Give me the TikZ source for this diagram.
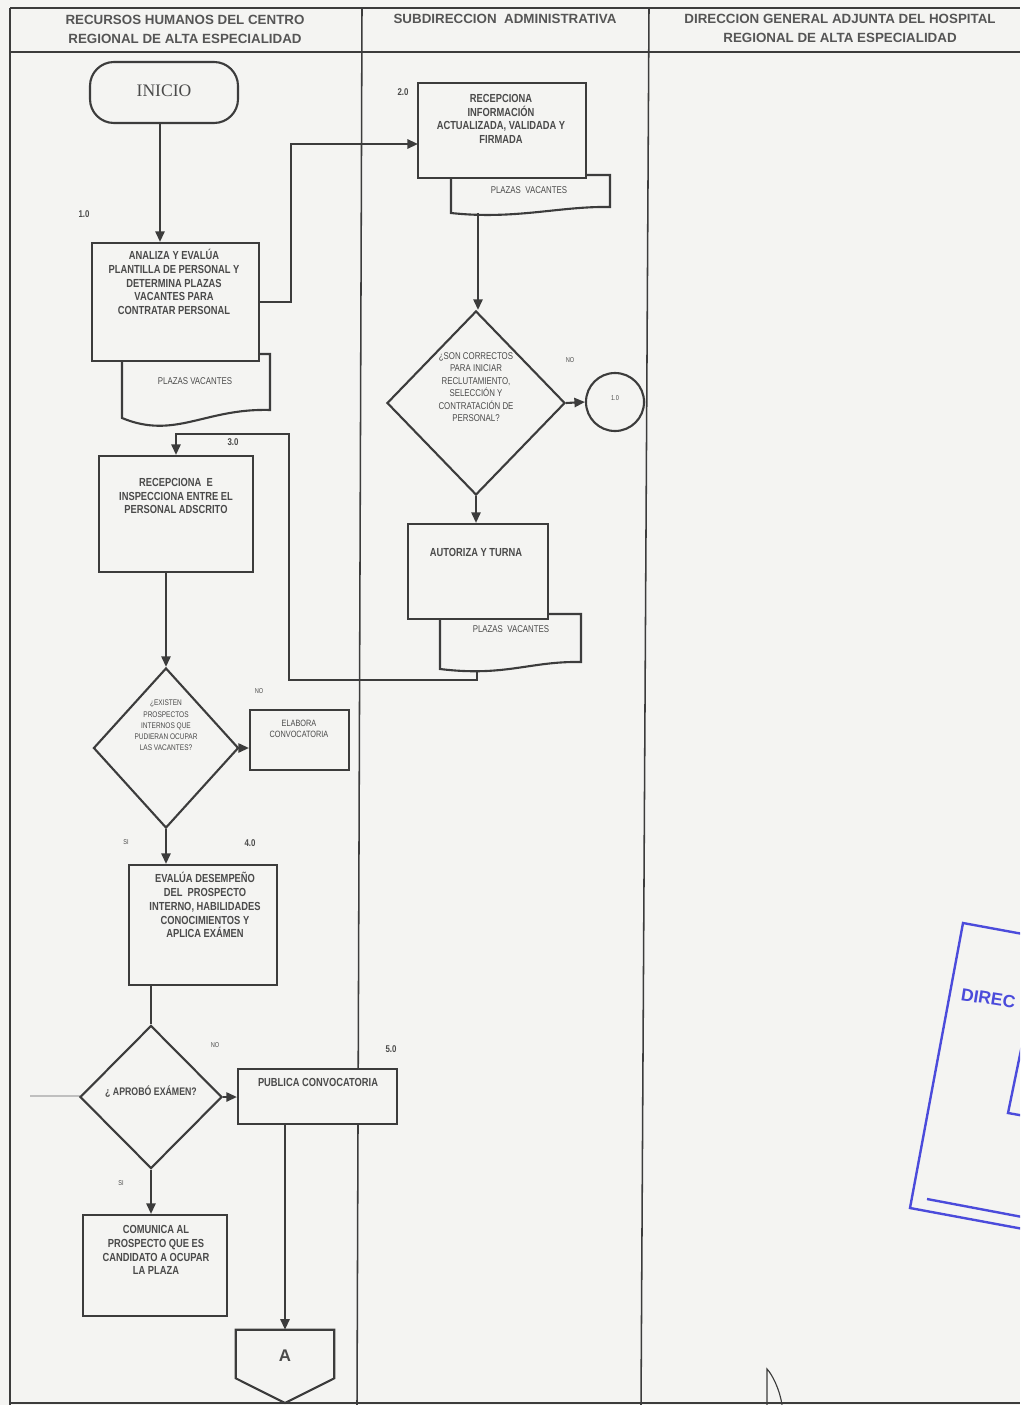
\documentclass[tikz,border=0pt]{standalone}
\usepackage{fontspec}
\setmainfont{Liberation Sans}
\newfontfamily\narrowf[FakeStretch=0.8]{Liberation Sans}
\newfontfamily\seriff{Liberation Serif}
\usetikzlibrary{arrows.meta,shapes.geometric,fit,calc}
\definecolor{ln}{HTML}{3C3C3C}
\definecolor{tx}{HTML}{4A4A4A}
\definecolor{hd}{HTML}{555555}
\definecolor{bg}{HTML}{F4F4F2}
\definecolor{stampc}{HTML}{4B4BDB}
\begin{document}
\begin{tikzpicture}[x=0.025cm,y=-0.025cm,
  box/.style={draw=ln,line width=1.5pt,fill=bg,inner sep=0pt},
  btxt/.style={font=\narrowf\bfseries\fontsize{8.3}{9.8}\selectfont,text=tx,align=center,inner sep=0pt,anchor=north},
  dtxt/.style={font=\narrowf\fontsize{7}{8.9}\selectfont,text=tx,align=center,inner sep=0pt,anchor=north},
  doctxt/.style={font=\narrowf\fontsize{7}{8}\selectfont,text=tx,inner sep=0pt},
  lbl/.style={font=\narrowf\bfseries\fontsize{7}{8}\selectfont,text=tx,inner sep=0pt},
  tinyl/.style={font=\narrowf\fontsize{5}{6}\selectfont,text=tx,inner sep=0pt},
  arr/.style={draw=ln,line width=1.5pt,-{Triangle[length=7.5pt,width=6.5pt]}},
  conn/.style={draw=ln,line width=1.5pt},
  dia/.style={diamond,draw=ln,line width=1.5pt,fill=bg,inner sep=0pt},
  docsh/.style={draw=ln,line width=1.5pt,fill=bg},
  hdr/.style={font=\bfseries\fontsize{9.5}{13.5}\selectfont,text=hd,align=center,inner sep=0pt},
  frame/.style={draw=ln,line width=1.1pt},
  stampl/.style={draw=stampc,line width=1.7pt}
]
\fill[bg] (0,0) rectangle (1020,1405);
\useasboundingbox (0,0) rectangle (1020,1405);
\clip (0,0) rectangle (1020,1405);

% frame and lanes
\draw[frame] (10,8) -- (1020,8);
\draw[frame] (10,52) -- (1020,52);
\draw[frame] (10,8) -- (10,1405);
\draw[frame] (362,8) -- (357,1405);
\draw[frame] (649,8) -- (641,1405);
\draw[frame] (10,1403) -- (1020,1403);

\node[hdr] (h1) at (185,29) {RECURSOS HUMANOS DEL CENTRO\\REGIONAL DE ALTA ESPECIALIDAD};
\node[hdr] (h2) at (505,19) {SUBDIRECCION\ \ ADMINISTRATIVA};
\node[hdr] (h3) at (840,28) {DIRECCION GENERAL ADJUNTA DEL HOSPITAL\\REGIONAL DE ALTA ESPECIALIDAD};

% documents (drawn first, under boxes)
\draw[docsh] (122,354) -- (270,354) -- (270,410) .. controls (205,408) and (175,440) .. (122,418) -- cycle;
\node[doctxt] (doc1t) at (195,381) {PLAZAS VACANTES};

\draw[docsh] (451,175) -- (610,175) -- (610,207) .. controls (560,206) and (515,220) .. (451,213) -- cycle;
\coordinate (doc2b) at (478,213);
\node[doctxt] (doc2t) at (529,190) {PLAZAS\ \ VACANTES};

\draw[docsh] (440,614) -- (581,614) -- (581,662) .. controls (530,661) and (505,677) .. (440,669) -- cycle;
\coordinate (doc3b) at (477,671);
\node[doctxt] (doc3t) at (511,629) {PLAZAS\ \ VACANTES};

% INICIO
\node[box,rounded corners=17pt,fit={(90,62)(238,123)}] (ini) {};
\node[font=\seriff\fontsize{12.5}{14}\selectfont,text=tx] (init) at (164,91) {INICIO};
\coordinate (iniS) at (160,123);

% box 1
\node[lbl] (l1) at (84,214) {1.0};
\node[box,fit={(92,243)(259,361)}] (b1) {};
\node[btxt] (b1t) at (174,249) {ANALIZA Y EVALÚA\\PLANTILLA DE PERSONAL Y\\DETERMINA PLAZAS\\VACANTES PARA\\CONTRATAR PERSONAL};

% box 2
\node[lbl] (l2) at (403,92) {2.0};
\node[box,fit={(418,83)(586,178)}] (b2) {};
\node[btxt] (b2t) at (501,94) {RECEPCIONA\\INFORMACIÓN\\ACTUALIZADA, VALIDADA Y\\FIRMADA};
\coordinate (b2in) at (418,144);

% decision 1
\node[dia,minimum width=4.45cm,minimum height=4.6cm] (d1) at (476,403) {};
\node[dtxt] (d1t) at (476,352) {¿SON CORRECTOS\\PARA INICIAR\\RECLUTAMIENTO,\\SELECCIÓN Y\\CONTRATACIÓN DE\\PERSONAL?};
\node[tinyl] (no1) at (570,360) {NO};
\node[circle,draw=ln,line width=1.5pt,fill=bg,minimum size=1.45cm,inner sep=0pt] (c1) at (615,402) {};
\node[tinyl] (c1t) at (615,398) {1.0};

% autoriza
\node[box,fit={(408,524)(548,619)}] (b7) {};
\node[btxt] (b7t) at (476,548) {AUTORIZA Y TURNA};

% box 3
\node[lbl] (l3) at (233,442) {3.0};
\node[box,fit={(99,456)(253,572)}] (b3) {};
\node[btxt] (b3t) at (176,478) {RECEPCIONA\ \ E\\INSPECCIONA ENTRE EL\\PERSONAL ADSCRITO};

% decision 2
\node[dia,minimum width=3.625cm,minimum height=4cm] (d2) at (166,748) {};
\node[dtxt,font=\narrowf\fontsize{5.8}{7.9}\selectfont] (d2t) at (166,700) {¿EXISTEN\\PROSPECTOS\\INTERNOS QUE\\PUDIERAN OCUPAR\\LAS VACANTES?};
\node[tinyl] (no2) at (259,691) {NO};
\node[box,fit={(250,710)(349,770)}] (b8) {};
\node[dtxt,font=\narrowf\fontsize{6.5}{7.8}\selectfont] (b8t) at (299,720) {ELABORA\\CONVOCATORIA};

% box 4
\node[tinyl] (si1) at (126,842) {SI};
\node[lbl] (l4) at (250,843) {4.0};
\node[box,fit={(129,865)(277,985)}] (b4) {};
\node[btxt] (b4t) at (205,872) {EVALÚA DESEMPEÑO\\DEL\ \ PROSPECTO\\INTERNO, HABILIDADES\\CONOCIMIENTOS Y\\APLICA EXÁMEN};

% decision 3
\draw[draw=black!25,line width=1pt] (30,1096) -- (80,1096);
\node[dia,minimum width=3.55cm,minimum height=3.575cm] (d3) at (151,1097) {};
\node[font=\narrowf\bfseries\fontsize{7.8}{9}\selectfont,text=tx,inner sep=0pt] (d3t) at (151,1092) {¿ APROBÓ EXÁMEN?};
\node[tinyl] (no3) at (215,1045) {NO};

% box 5
\node[lbl] (l5) at (391,1049) {5.0};
\node[box,fit={(238,1069)(397,1124)}] (b5) {};
\node[btxt] (b5t) at (318,1078) {PUBLICA CONVOCATORIA};

% box 6
\node[tinyl] (si2) at (121,1183) {SI};
\node[box,fit={(83,1215)(227,1316)}] (b6) {};
\node[btxt] (b6t) at (156,1225) {COMUNICA AL\\PROSPECTO QUE ES\\CANDIDATO A OCUPAR\\LA PLAZA};

% off-page connector A
\node[fit={(236,1330)(334,1378)},inner sep=0pt] (offA) {};
\draw[conn,fill=bg,line join=miter] (offA.north west) -- (offA.north east) -- (offA.south east) -- (285,1403) -- (offA.south west) -- cycle;
\node[font=\bfseries\fontsize{12}{14}\selectfont,text=tx] (offAt) at (285,1356) {A};

% connectors
\draw[arr] (iniS) -- (iniS |- b1.north);
\draw[arr] (b1.east) -- ++(31,0) |- (b2in);
\draw[arr] (doc2b) -- (doc2b |- d1.north);
\draw[arr] (d1.east) -- (c1.west);
\draw[arr] (d1.south) -- (d1.south |- b7.north);
\draw[arr] (doc3b) -- (477,680) -| (289,434) -| (b3.north);
\draw[arr] (b3.south -| d2.north) -- (d2.north);
\draw[arr] (d2.east) -- (d2.east -| b8.west);
\draw[arr] (d2.south) -- (d2.south |- b4.north);
\draw[conn] (d3.north |- b4.south) -- (d3.north);
\draw[arr] (d3.east) -- (d3.east -| b5.west);
\draw[arr] (d3.south) -- (d3.south |- b6.north);
\draw[arr] (b5.south -| offA.north) -- (offA.north);

% stamp
\draw[stampl] (1061,941) -- (963,923) -- (910,1208) -- (1061,1236);
\draw[stampl] (927,1199) -- (1070,1226);
\draw[stampl] (1022,1045) -- (1008,1113) -- (1070,1124);
\node[font=\bfseries\fontsize{12.5}{14}\selectfont,text=stampc,rotate=-9,anchor=base west,inner sep=0pt] (stt) at (960,1000) {DIREC};

% pen stroke
\draw[draw=ln,line width=0.8pt] (767,1405) -- (767,1369) .. controls (772,1374) and (780,1390) .. (782,1405);
\end{tikzpicture}
\end{document}
